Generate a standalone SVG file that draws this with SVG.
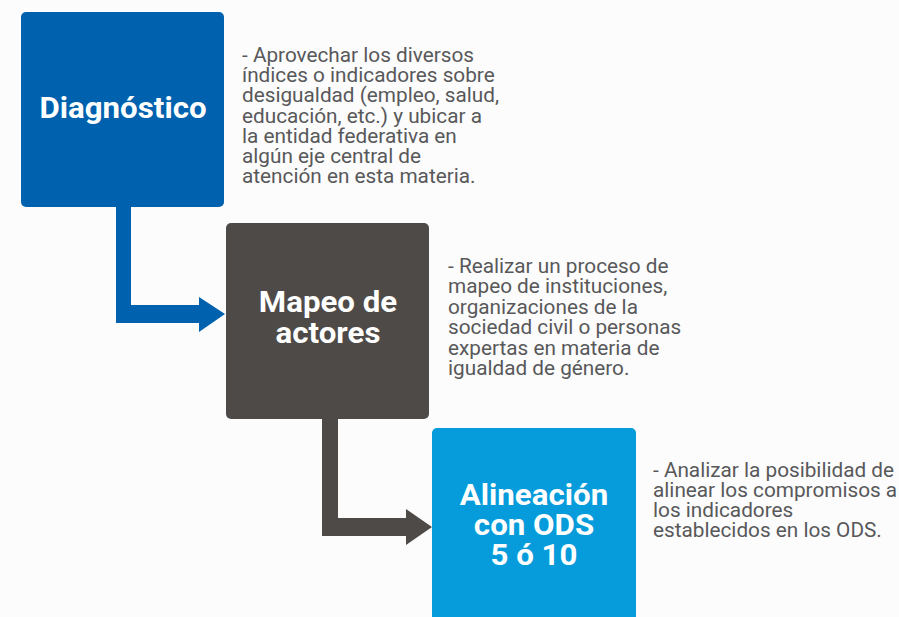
<svg xmlns="http://www.w3.org/2000/svg" width="899" height="617" viewBox="0 0 899 617">
<style>
.title{font-family:Roboto,"Liberation Sans",sans-serif;font-weight:bold;font-size:29.5px;fill:#fff;text-anchor:middle}
.desc{font-family:Roboto,"Liberation Sans",sans-serif;font-size:19.5px;fill:#58585a}
</style>
<rect width="899" height="617" fill="#fcfcfc"/>
<g id="connectors">
<path d="M116 207 V323 H199 V332 L225 314 L199 297 V305 H131 V207 Z" fill="#0062ae"/>
<path d="M322 419 V536 H406 V545 L432 527 L406 509 V518 H338 V419 Z" fill="#4e4a48"/>
</g>
<g id="node-diagnostico">
<rect x="21" y="12" width="203" height="195" rx="5" fill="#0062ae"/>
<text class="title" transform="translate(123 0) scale(1.06 1)" x="0" y="118">Diagnóstico</text>
<text class="desc" transform="translate(242 0) scale(1.065 1)"><tspan x="0" y="62">- Aprovechar los diversos</tspan><tspan x="0" y="82.2">índices o indicadores sobre</tspan><tspan x="0" y="102.4">desigualdad (empleo, salud,</tspan><tspan x="0" y="122.6">educación, etc.) y ubicar a</tspan><tspan x="0" y="142.8">la entidad federativa en</tspan><tspan x="0" y="163">algún eje central de</tspan><tspan x="0" y="183.2">atención en esta materia.</tspan></text>
</g>
<g id="node-mapeo">
<rect x="226" y="223" width="203" height="196" rx="5" fill="#4e4a48"/>
<text class="title" transform="translate(328 0) scale(1.06 1)"><tspan x="0" y="312">Mapeo de</tspan><tspan x="0" y="343">actores</tspan></text>
<text class="desc" transform="translate(448 0) scale(1.065 1)"><tspan x="0" y="273">- Realizar un proceso de</tspan><tspan x="0" y="293.4">mapeo de instituciones,</tspan><tspan x="0" y="313.8">organizaciones de la</tspan><tspan x="0" y="334.2">sociedad civil o personas</tspan><tspan x="0" y="354.6">expertas en materia de</tspan><tspan x="0" y="375">igualdad de género.</tspan></text>
</g>
<g id="node-alineacion">
<rect x="432" y="428" width="204" height="200" rx="5" fill="#069cdb"/>
<text class="title" transform="translate(534 0) scale(1.06 1)"><tspan x="0" y="505">Alineación</tspan><tspan x="0" y="535">con ODS</tspan><tspan x="0" y="565">5 ó 10</tspan></text>
<text class="desc" transform="translate(653 0) scale(1.065 1)"><tspan x="0" y="477">- Analizar la posibilidad de</tspan><tspan x="0" y="497">alinear los compromisos a</tspan><tspan x="0" y="517">los indicadores</tspan><tspan x="0" y="537">establecidos en los ODS.</tspan></text>
</g>
</svg>
